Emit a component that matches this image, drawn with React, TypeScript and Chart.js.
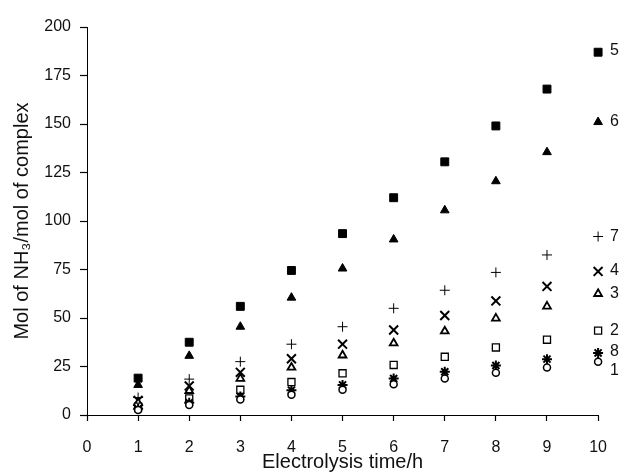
import React, { useEffect, useRef } from "react";
import { Chart, registerables } from "chart.js";

Chart.register(...registerables);

const hours = [1, 2, 3, 4, 5, 6, 7, 8, 9, 10];
const yTickStep = 25;
const yMax = 200;
const xMax = 10;

const series1 = [2.6, 5.2, 8, 10.5, 13, 15.8, 18.8, 21.8, 24.5, 27.5];
const series8 = [3.2, 6.3, 9.5, 12.8, 15.5, 18.8, 22.3, 25.5, 28.8, 32];
const series2 = [4.3, 8.6, 13, 17, 21.5, 25.8, 30, 34.8, 38.8, 43.5];
const series3 = [6.2, 12.5, 18.8, 24.5, 30.8, 37, 43.2, 49.8, 56, 62.5];
const series4 = [7.5, 15, 22, 29, 36.5, 43.8, 51.3, 58.8, 66.3, 74];
const series7 = [9, 18.5, 27.5, 36.5, 45.5, 55, 64.3, 73.5, 82.5, 92];
const series6 = [15.5, 30.5, 45.5, 60.5, 75.5, 90.5, 105.5, 120.5, 135.5, 151];
const series5 = [19, 37.5, 56, 74.5, 93.5, 112, 130.5, 149, 168, 187];

const seriesLabels = ["1", "8", "2", "3", "4", "7", "6", "5"];

const FONT = "'Liberation Sans', Arial, sans-serif";

const endLabelPlugin = {
  id: "endLabels",
  afterDatasetsDraw(chart: any) {
    const { ctx } = chart;
    const xs = chart.scales.x;
    const ys = chart.scales.y;
    const offsets: Record<string, number> = { "1": 9, "5": -2, "4": -1, "8": -1 };
    ctx.save();
    ctx.fillStyle = "#111";
    ctx.font = `16px ${FONT}`;
    ctx.textAlign = "left";
    ctx.textBaseline = "middle";
    chart.data.datasets.forEach((ds: any) => {
      const last = ds.data[ds.data.length - 1];
      const px = xs.getPixelForValue(last.x) + 12;
      const py = ys.getPixelForValue(last.y) + (offsets[ds.label] || 0);
      ctx.fillText(ds.label, px, py);
    });
    ctx.restore();
  },
};

function toPoints(vals: number[]) {
  return vals.map((v, i) => ({ x: hours[i], y: v }));
}

export default function App() {
  const ref = useRef<HTMLCanvasElement | null>(null);
  useEffect(() => {
    if (!ref.current) return;
    const styles: Record<string, any> = {
      "1": { pointStyle: "circle", pointRadius: 3.5, borderWidth: 1.5, fill: "#fff" },
      "8": { pointStyle: "star", pointRadius: 5, borderWidth: 2, fill: "#000" },
      "2": { pointStyle: "rect", pointRadius: 5, borderWidth: 1.3, fill: "#fff" },
      "3": { pointStyle: "triangle", pointRadius: 4.5, borderWidth: 1.8, fill: "#fff" },
      "4": { pointStyle: "crossRot", pointRadius: 6.3, borderWidth: 2, fill: "#000" },
      "7": { pointStyle: "cross", pointRadius: 5, borderWidth: 1, fill: "#000" },
      "6": { pointStyle: "triangle", pointRadius: 5, borderWidth: 1, fill: "#000" },
      "5": { pointStyle: "rect", pointRadius: 5.6, borderWidth: 1, fill: "#000" },
    };
    const allSeries = [series1, series8, series2, series3, series4, series7, series6, series5];
    const datasets = allSeries.map((vals, i) => {
      const lab = seriesLabels[i];
      const s = styles[lab];
      return {
        label: lab,
        data: toPoints(vals),
        showLine: false,
        clip: false,
        pointStyle: s.pointStyle,
        pointRadius: s.pointRadius,
        pointHoverRadius: s.pointRadius,
        pointBorderWidth: s.borderWidth,
        pointBorderColor: "#000",
        pointBackgroundColor: s.fill,
        borderColor: "#000",
        backgroundColor: s.fill,
      };
    });
    const chart = new Chart(ref.current, {
      type: "scatter",
      data: { datasets },
      plugins: [endLabelPlugin],
      options: {
        animation: false,
        responsive: false,
        devicePixelRatio: 1,
        layout: { padding: { top: 27, right: 22, left: 0, bottom: 0 } },
        plugins: {
          legend: { display: false },
          tooltip: { enabled: false },
        },
        scales: {
          x: {
            type: "linear",
            min: 0,
            max: xMax,
            afterFit: (s: any) => {
              s.height = 59;
            },
            ticks: {
              stepSize: 1,
              color: "#111",
              font: { family: FONT, size: 16 },
              padding: 17,
            },
            grid: {
              display: true,
              drawOnChartArea: false,
              drawTicks: true,
              tickLength: 6,
              tickWidth: 1.2,
              tickColor: "#000",
              color: "#000",
            },
            border: { display: true, color: "#000", width: 1 },
            title: {
              display: true,
              text: "Electrolysis time/h",
              color: "#111",
              font: { family: FONT, size: 20 },
              padding: { top: 0, bottom: 0 },
            },
          },
          y: {
            type: "linear",
            min: 0,
            max: yMax,
            afterFit: (s: any) => {
              s.width = 87;
            },
            ticks: {
              stepSize: yTickStep,
              color: "#111",
              font: { family: FONT, size: 16 },
              padding: 9,
            },
            grid: {
              display: true,
              drawOnChartArea: false,
              drawTicks: true,
              tickLength: 7,
              tickWidth: 1.2,
              tickColor: "#000",
              color: "#000",
            },
            border: { display: true, color: "#000", width: 1 },
            title: {
              display: true,
              text: "Mol of NH\u2083/mol of complex",
              color: "#111",
              font: { family: FONT, size: 20 },
              padding: { top: 10, bottom: 0 },
            },
          },
        },
      },
    } as any);
    return () => chart.destroy();
  }, []);
  return (
    <div style={{ position: "fixed", left: 0, top: 0, width: 624, height: 474, background: "#fff" }}>
      <canvas ref={ref} width={624} height={474} />
    </div>
  );
}
